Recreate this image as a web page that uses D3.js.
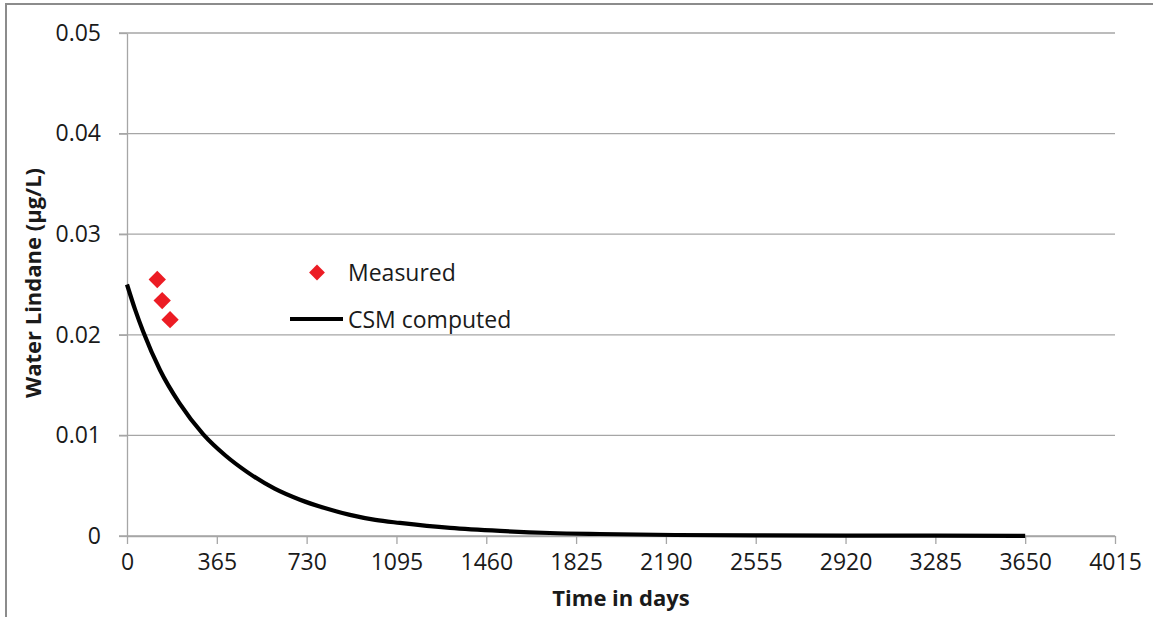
<!DOCTYPE html>
<html>
<head>
<meta charset="utf-8">
<script src="https://cdn.jsdelivr.net/npm/d3@7"></script>
<style>
  html, body { margin: 0; padding: 0; background: #fff; }
  svg { display: block; }
  text { font-family: "Open Sans", "Noto Sans", sans-serif; fill: #1a1a1a; }
</style>
</head>
<body>
<svg id="chart" width="1153" height="617"></svg>
<script>
// Lindane concentration in water over time
const xTicks = [0, 365, 730, 1095, 1460, 1825, 2190, 2555, 2920, 3285, 3650, 4015];
const yTicks = [0, 0.01, 0.02, 0.03, 0.04, 0.05];
const yTickLabels = ["0", "0.01", "0.02", "0.03", "0.04", "0.05"];

// CSM computed curve (days, µg/L)
const csmDays   = [0, 33, 66, 134, 213, 310, 400, 486, 600, 703, 800, 906, 1009, 1109, 1313, 1516, 1719, 1922, 2227, 2555, 2920, 3285, 3650];
const csmValues = [0.0250, 0.0225, 0.0203, 0.0165, 0.0132, 0.0101, 0.0080, 0.0064, 0.0047, 0.0036, 0.0028, 0.0021, 0.0016, 0.0013, 0.0008, 0.0005, 0.0003, 0.0002, 0.0001, 0.00006, 0.00004, 0.00003, 0.00002];

// Field measurements (days, µg/L)
const measuredDays   = [123, 143, 175];
const measuredValues = [0.0255, 0.0234, 0.0215];

const seriesNames = ["Measured", "CSM computed"];

const svg = d3.select("#chart");
const gridColor = "#a6a6a6";

// outer frame
svg.append("rect")
  .attr("x", 6).attr("y", 4)
  .attr("width", 1170).attr("height", 700)
  .attr("fill", "none").attr("stroke", "#8c8c8c").attr("stroke-width", 2);

const x = d3.scaleLinear().domain([0, 4015]).range([127, 1115]);
const y = d3.scaleLinear().domain([0, 0.05]).range([536, 33]);

// horizontal gridlines (extend left as tick marks)
svg.append("g").selectAll("line")
  .data(yTicks)
  .join("line")
  .attr("x1", x(0) - 8).attr("x2", x(4015))
  .attr("y1", d => y(d)).attr("y2", d => y(d))
  .attr("stroke", gridColor).attr("stroke-width", 1.3);

// y axis
const yAxis = d3.axisLeft(y)
  .tickValues(yTicks)
  .tickFormat((d, i) => yTickLabels[i])
  .tickSizeInner(8).tickSizeOuter(0).tickPadding(18);
const gy = svg.append("g").attr("transform", `translate(${x(0)},0)`).call(yAxis);
gy.select(".domain").attr("stroke", gridColor).attr("stroke-width", 1.3);
gy.selectAll(".tick line").attr("stroke", gridColor).attr("stroke-width", 1.3);
gy.selectAll(".tick text").attr("font-size", 23).attr("font-family", "'Open Sans', sans-serif").attr("fill", "#1a1a1a");

// x axis
const xAxis = d3.axisBottom(x)
  .tickValues(xTicks)
  .tickFormat(d3.format("d"))
  .tickSizeInner(8).tickSizeOuter(0).tickPadding(10);
const gx = svg.append("g").attr("transform", `translate(0,${y(0)})`).call(xAxis);
gx.select(".domain").attr("stroke", gridColor).attr("stroke-width", 1.3);
gx.selectAll(".tick line").attr("stroke", gridColor).attr("stroke-width", 1.3);
gx.selectAll(".tick text").attr("font-size", 23).attr("font-family", "'Open Sans', sans-serif").attr("fill", "#1a1a1a");

// axis titles
svg.append("text")
  .attr("x", 621).attr("y", 606)
  .attr("text-anchor", "middle")
  .attr("font-size", 22).attr("font-weight", "bold")
  .text("Time in days");

svg.append("text")
  .attr("transform", "translate(41,283) rotate(-90)")
  .attr("text-anchor", "middle")
  .attr("font-size", 22).attr("font-weight", "bold")
  .text("Water Lindane (µg/L)");

// computed curve
const csmData = csmDays.map((d, i) => ({ t: d, v: csmValues[i] }));
const line = d3.line().x(d => x(d.t)).y(d => y(d.v)).curve(d3.curveMonotoneX);
svg.append("path")
  .datum(csmData)
  .attr("d", line)
  .attr("fill", "none").attr("stroke", "#000").attr("stroke-width", 4.2);

// measured points
const measuredData = measuredDays.map((d, i) => ({ t: d, v: measuredValues[i] }));
const diamond = d3.symbol().type(d3.symbolSquare).size(150);
const red = "#ec1c24";
svg.append("g").selectAll("path")
  .data(measuredData)
  .join("path")
  .attr("d", diamond)
  .attr("transform", d => `translate(${x(d.t)},${y(d.v)}) rotate(45)`)
  .attr("fill", red);

// legend
const lg = svg.append("g");
lg.append("path")
  .attr("d", d3.symbol().type(d3.symbolSquare).size(125))
  .attr("transform", "translate(317,272.5) rotate(45)")
  .attr("fill", red);
lg.append("text").attr("x", 348).attr("y", 280.5).attr("font-size", 23).text(seriesNames[0]);
lg.append("line")
  .attr("x1", 290).attr("x2", 343).attr("y1", 319).attr("y2", 319)
  .attr("stroke", "#000").attr("stroke-width", 4.2);
lg.append("text").attr("x", 348).attr("y", 327.5).attr("font-size", 23).text(seriesNames[1]);
</script>
</body>
</html>
